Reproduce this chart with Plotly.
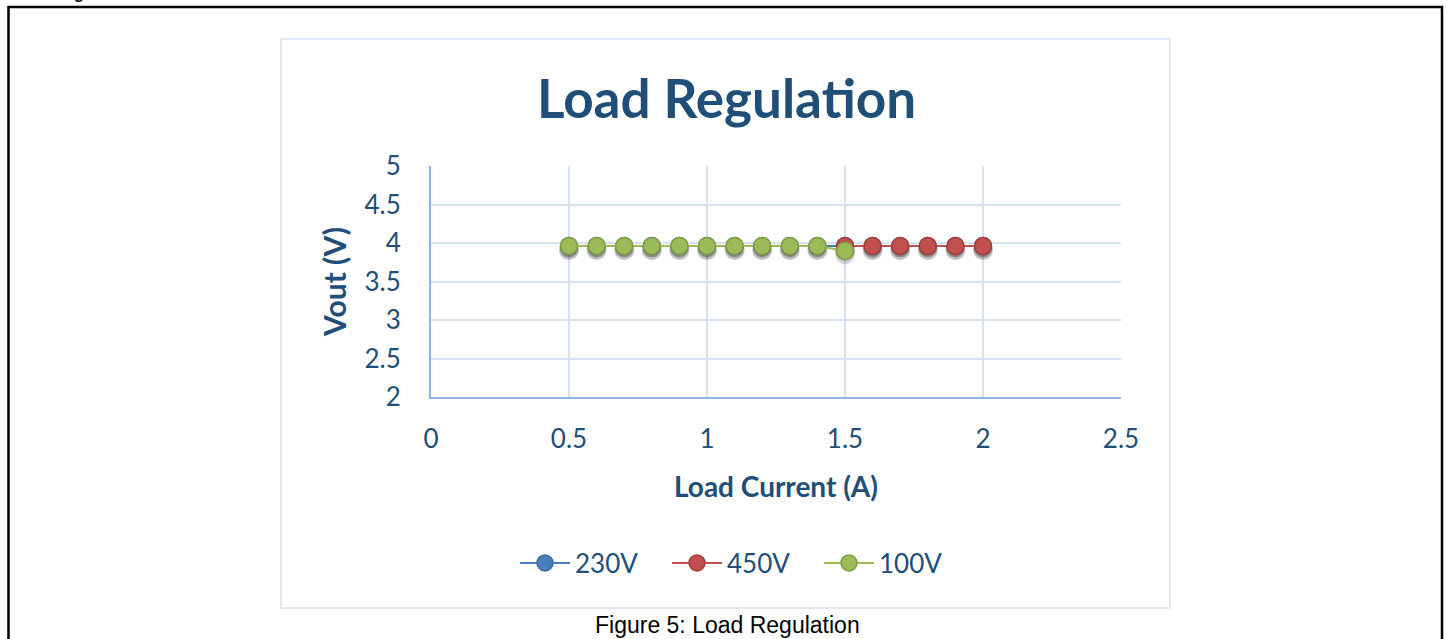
import plotly.graph_objects as go

# Data
x_230 = [0.5, 0.6, 0.7, 0.8, 0.9, 1.0, 1.1, 1.2, 1.3, 1.4, 1.5, 1.6, 1.7, 1.8, 1.9, 2.0]
y_230 = [3.96] * 16
x_450 = [1.5, 1.6, 1.7, 1.8, 1.9, 2.0]
y_450 = [3.96, 3.96, 3.96, 3.96, 3.96, 3.96]
x_100 = [0.5, 0.6, 0.7, 0.8, 0.9, 1.0, 1.1, 1.2, 1.3, 1.4, 1.5]
y_100 = [3.96, 3.96, 3.96, 3.96, 3.96, 3.96, 3.96, 3.96, 3.96, 3.96, 3.90]

series = [
    ("230V", x_230, y_230, "#4A7EBB", "#3A6BA5"),
    ("450V", x_450, y_450, "#C0504D", "#A33E3B"),
    ("100V", x_100, y_100, "#9BBB59", "#7F9E43"),
]

W, H = 1450, 639
L, R, T, B = 431, 1121, 166, 397
TXT = "#1F4E79"
SHADOW_DY = 0.05

fig = go.Figure()
for name, xs, ys, col, edge in series:
    fig.add_trace(go.Scatter(
        x=xs, y=[v - SHADOW_DY for v in ys], mode="markers", showlegend=False, hoverinfo="skip",
        marker=dict(size=20, color="rgba(0,0,0,0.13)", line=dict(width=0)),
    ))
    fig.add_trace(go.Scatter(
        x=xs, y=[v - SHADOW_DY * 0.6 for v in ys], mode="markers", showlegend=False, hoverinfo="skip",
        marker=dict(size=18, color="rgba(0,0,0,0.15)", line=dict(width=0)),
    ))
    fig.add_trace(go.Scatter(
        x=xs, y=ys, name=name, mode="lines+markers",
        line=dict(color=col, width=2),
        marker=dict(size=17, color=col, line=dict(color=edge, width=1.5)),
    ))

def px(xp):
    return (xp - L) / (R - L)

def py(yp):
    return (B - yp) / (B - T)

shapes = [
    dict(type="rect", xref="paper", yref="paper",
         x0=px(8.5), x1=px(1442), y0=py(7), y1=py(660),
         line=dict(color="black", width=2.5), fillcolor="rgba(0,0,0,0)", layer="below"),
    dict(type="rect", xref="paper", yref="paper",
         x0=px(281), x1=px(1170), y0=py(39), y1=py(608),
         line=dict(color="#D6E1F1", width=1.5), fillcolor="rgba(0,0,0,0)", layer="below"),
]

annotations = [
    dict(text="<b>Load Regulation</b>", xref="paper", yref="paper",
         x=px(726), y=py(97), xanchor="center", yanchor="middle", showarrow=False,
         font=dict(family="Lato", size=53, color=TXT)),
    dict(text="Figure 5: Load Regulation", xref="paper", yref="paper",
         x=px(727), y=py(625), xanchor="center", yanchor="middle", showarrow=False,
         font=dict(family="Liberation Sans", size=23, color="black")),
    dict(text="<b>Load Regulation</b>", xref="paper", yref="paper",
         x=px(9), y=py(4), xanchor="left", yanchor="bottom", showarrow=False,
         font=dict(family="Liberation Sans", size=16, color="black")),
]

fig.update_layout(
    width=W, height=H,
    margin=dict(l=L, r=W - R, t=T, b=H - B, pad=0),
    paper_bgcolor="white", plot_bgcolor="white",
    font=dict(family="Lato", color=TXT),
    showlegend=True,
    legend=dict(orientation="h", x=px(743), y=py(563), xanchor="center", yanchor="middle",
                font=dict(family="Lato", size=26, color=TXT), itemwidth=50,
                entrywidth=87, entrywidthmode="pixels", traceorder="normal"),
    xaxis=dict(range=[0, 2.5], dtick=0.5, tick0=0, showgrid=True, gridcolor="#D6E1F1", gridwidth=1.5,
               zeroline=False, showline=True, linecolor="#8EB4E3", linewidth=2,
               ticks="", tickfont=dict(family="Lato", size=26, color=TXT), ticklabelstandoff=18,
               title=dict(text="<b>Load Current (A)</b>", font=dict(family="Lato", size=28, color=TXT), standoff=24)),
    yaxis=dict(range=[2, 5], dtick=0.5, tick0=2, showgrid=True, gridcolor="#D6E1F1", gridwidth=1.5,
               zeroline=False, showline=True, linecolor="#8EB4E3", linewidth=2,
               ticks="", tickfont=dict(family="Lato", size=26, color=TXT), ticklabelstandoff=23,
               title=dict(text="<b>Vout (V)</b>", font=dict(family="Lato", size=30, color=TXT), standoff=9)),
    shapes=shapes, annotations=annotations,
)

fig.write_html("out.html", config={"displayModeBar": False},
               post_script="document.body.style.margin='0px';")
